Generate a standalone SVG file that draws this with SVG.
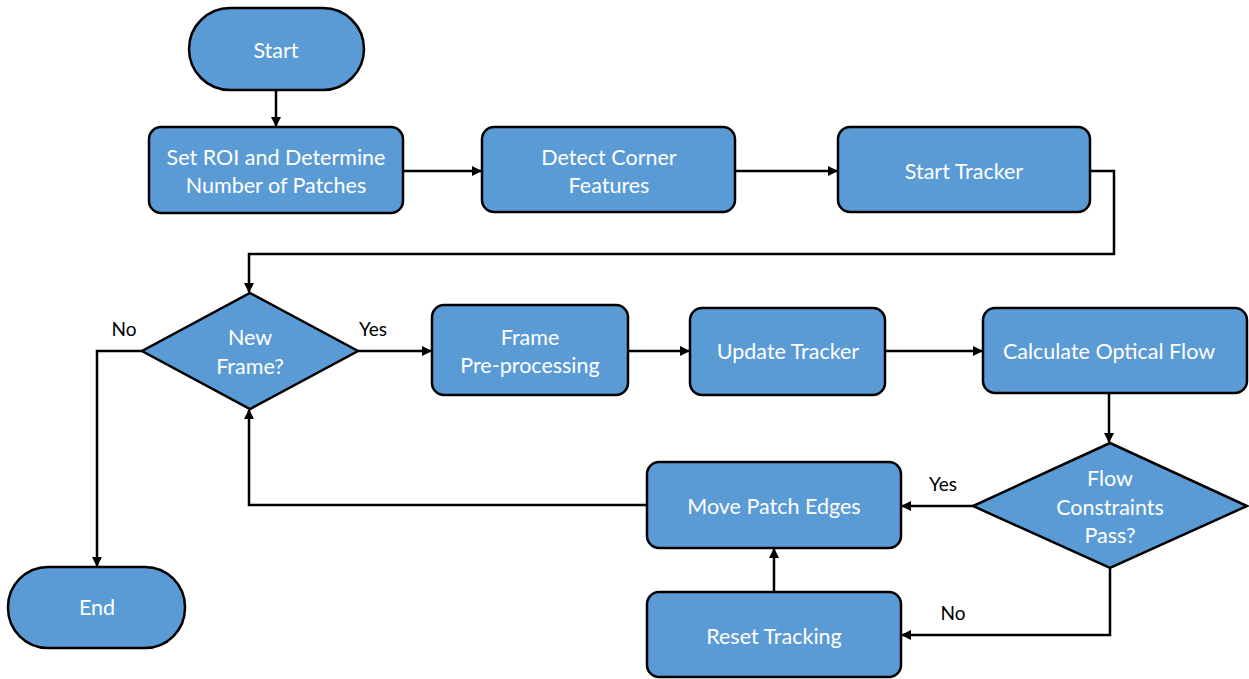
<svg xmlns="http://www.w3.org/2000/svg" width="1249" height="679" viewBox="0 0 1249 679">
<style>
.n{fill:#5B9BD5;stroke:#000;stroke-width:2.5}
.t{font-family:Lato,"Open Sans",sans-serif;font-size:21.5px;fill:#fff;text-anchor:middle;dominant-baseline:central}
.l{font-family:Lato,"Open Sans",sans-serif;font-size:19px;fill:#000;text-anchor:middle;dominant-baseline:central}
.c{fill:none;stroke:#000;stroke-width:2.5}
</style>
<defs>
<marker id="a" markerWidth="10" markerHeight="10" refX="9" refY="5" orient="auto" markerUnits="userSpaceOnUse">
<path d="M0,0 L10,5 L0,10 Z" fill="#000"/>
</marker>
</defs>
<rect width="1249" height="679" fill="#fff"/>
<g id="connectors">
<path class="c" d="M276,90 V126" marker-end="url(#a)"/>
<path class="c" d="M404,171 H481" marker-end="url(#a)"/>
<path class="c" d="M735,171 H837" marker-end="url(#a)"/>
<path class="c" d="M1090,171 H1114 V254 H249 V292" marker-end="url(#a)"/>
<path class="c" d="M358,351 H431" marker-end="url(#a)"/>
<path class="c" d="M628,351 H689" marker-end="url(#a)"/>
<path class="c" d="M885,351 H982" marker-end="url(#a)"/>
<path class="c" d="M1109,393 V442" marker-end="url(#a)"/>
<path class="c" d="M973,506 H902" marker-end="url(#a)"/>
<path class="c" d="M1110,568 V635 H902" marker-end="url(#a)"/>
<path class="c" d="M774,592 V549" marker-end="url(#a)"/>
<path class="c" d="M647,505 H249 V410" marker-end="url(#a)"/>
<path class="c" d="M142,351 H97 V566" marker-end="url(#a)"/>
<text class="l" x="124" y="328">No</text>
<text class="l" x="373" y="328">Yes</text>
<text class="l" x="943" y="483">Yes</text>
<text class="l" x="953" y="612">No</text>
</g>
<g id="start"><rect class="n" x="189" y="8" width="175" height="82" rx="41"/><text class="t" x="276" y="50">Start</text></g>
<g id="setroi"><rect class="n" x="149" y="127" width="254" height="86" rx="12"/><text class="t" x="276" y="157">Set ROI and Determine</text><text class="t" x="276" y="185">Number of Patches</text></g>
<g id="detect"><rect class="n" x="482" y="127" width="253" height="85" rx="12"/><text class="t" x="609" y="157">Detect Corner</text><text class="t" x="609" y="185">Features</text></g>
<g id="starttracker"><rect class="n" x="838" y="127" width="252" height="85" rx="12"/><text class="t" x="964" y="171">Start Tracker</text></g>
<g id="newframe"><polygon class="n" points="250,293 358,351 250,409 142,351"/><text class="t" x="250" y="337">New</text><text class="t" x="250" y="366">Frame?</text></g>
<g id="preproc"><rect class="n" x="432" y="305" width="196" height="90" rx="12"/><text class="t" x="530" y="337">Frame</text><text class="t" x="530" y="365">Pre-processing</text></g>
<g id="update"><rect class="n" x="690" y="308" width="195" height="87" rx="12"/><text class="t" x="788" y="351">Update Tracker</text></g>
<g id="optflow"><rect class="n" x="983" y="308" width="264" height="85" rx="12"/><text class="t" x="1109" y="351">Calculate Optical Flow</text></g>
<g id="flowpass"><polygon class="n" points="1110,443 1247,506 1110,568 973,506"/><text class="t" x="1110" y="478">Flow</text><text class="t" x="1110" y="507">Constraints</text><text class="t" x="1110" y="535">Pass?</text></g>
<g id="movepatch"><rect class="n" x="647" y="462" width="254" height="86" rx="12"/><text class="t" x="774" y="506">Move Patch Edges</text></g>
<g id="reset"><rect class="n" x="647" y="592" width="254" height="85" rx="12"/><text class="t" x="774" y="636">Reset Tracking</text></g>
<g id="end"><rect class="n" x="8" y="567" width="177" height="81" rx="40"/><text class="t" x="97" y="607">End</text></g>
</svg>
